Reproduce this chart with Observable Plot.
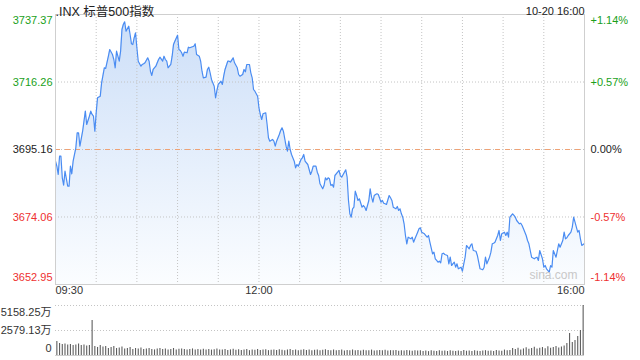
<!DOCTYPE html>
<html><head><meta charset="utf-8">
<script src="https://cdn.jsdelivr.net/npm/d3@7"></script>
<script src="https://cdn.jsdelivr.net/npm/@observablehq/plot@0.6"></script>
<style>
body{margin:0;background:#fff;}
#chart{width:640px;height:360px;position:relative;}
#chart svg{display:block;}
</style></head><body><div id="chart"></div>
<script>
const title = ".INX 标普500指数";
const stamp = "10-20 16:00";
const watermark = "sina.com";
const prevClose = 3695.16;
const priceTicks = [3737.37, 3716.26, 3695.16, 3674.06, 3652.95];
const pctLabels = ["+1.14%", "+0.57%", "0.00%", "-0.57%", "-1.14%"];
const timeTicks = [0, 150, 390];
const timeLabels = ["09:30", "12:00", "16:00"];
const gridMinutes = [30, 60, 90, 120, 150, 180, 210, 240, 270, 300, 330, 360];
const volTicks = [5158.25, 2579.13, 0];
const volLabels = ["5158.25万", "2579.13万", "0"];

// [minutes since 09:30, index level]
const pricePoints = [
[0,3691.50],[1,3689.94],[2,3687.35],[3,3693.07],[4,3693.07],[5,3686.31],[6,3684.00],[7,3688.38],[9,3683.69],[10,3683.69],
[11,3689.94],[12,3687.56],[13,3691.50],[15,3695.69],[16,3700.38],[17,3700.38],[18,3696.19],[20,3700.88],[21,3704.01],[22,3707.14],
[23,3702.98],[25,3705.57],[26,3707.14],[27,3706.11],[28,3705.57],[29,3700.88],[30,3706.64],[31,3711.33],[33,3711.83],[34,3716.02],
[36,3720.71],[37,3720.49],[39,3724.33],[40,3726.43],[42,3724.87],[43,3723.30],[44,3720.71],[45,3725.90],[47,3722.77],[48,3725.90],
[49,3732.68],[50,3734.25],[51,3735.09],[52,3732.15],[54,3733.71],[55,3731.12],[56,3728.21],[57,3727.99],[58,3730.09],[59,3731.65],
[60,3726.96],[61,3722.77],[63,3721.21],[64,3721.74],[65,3721.96],[66,3722.27],[68,3723.83],[69,3722.77],[70,3719.64],[71,3718.30],
[72,3720.18],[74,3721.21],[75,3722.27],[76,3723.30],[77,3724.02],[79,3722.77],[80,3724.33],[81,3723.30],[82,3722.77],[83,3720.71],
[85,3721.74],[86,3724.33],[87,3727.99],[88,3729.02],[90,3730.90],[91,3726.43],[92,3726.12],[93,3725.40],[94,3724.33],[95,3725.59],
[97,3725.40],[98,3727.15],[99,3726.96],
[102,3727.46],[103,3728.21],[104,3724.87],[106,3724.33],[107,3722.77],[108,3719.64],[109,3717.58],[111,3717.77],[112,3720.18],[113,3720.89],
[114,3719.14],[115,3717.05],[117,3714.95],[118,3711.33],[119,3713.61],[120,3715.49],[122,3716.52],[123,3715.49],[124,3718.08],[125,3720.18],
[127,3722.77],[128,3722.77],[129,3722.50],[131,3723.83],[132,3722.27],[134,3720.71],[135,3718.61],[136,3718.08],[138,3718.61],[139,3720.18],
[140,3719.46],[141,3721.74],[143,3721.74],[144,3719.14],[145,3717.58],[146,3713.92],[147,3713.39],[149,3711.83],[150,3708.20],[151,3706.11],
[152,3704.54],[153,3706.32],[155,3706.64],[156,3702.98],[157,3698.82],[158,3697.76],[160,3698.29],[161,3697.76],[162,3696.19],[163,3697.76],
[165,3699.85],[166,3701.10],[167,3701.95],[168,3700.88],[170,3696.19],[171,3694.63],[172,3697.76],[173,3695.16],[174,3693.60],[176,3691.50],
[177,3689.44],[178,3690.47],[179,3689.94],[181,3692.04],[182,3692.57],[183,3693.60],[184,3691.50],[186,3690.47],[187,3688.91],[188,3687.35],
[189,3688.38],[190,3689.94],[192,3689.94],
[193,3688.06],[194,3687.03],[195,3684.44],[197,3682.87],[198,3683.91],[199,3686.31],[200,3685.69],[201,3686.31],[202,3686.00],[203,3683.91],
[204,3684.22],[205,3683.37],[206,3687.03],[208,3688.06],[209,3688.60],[210,3687.03],[211,3686.50],[213,3688.06],[214,3688.81],[215,3686.50],
[216,3679.22],[217,3675.06],[218,3673.99],[219,3676.62],[220,3677.12],[221,3682.12],[222,3680.78],[223,3679.22],[224,3679.75],[226,3677.12],
[227,3677.65],[228,3677.12],[229,3676.09],[231,3679.22],[232,3682.87],[233,3680.25],[234,3678.68],[235,3680.78],[236,3681.09],[237,3681.31],
[238,3681.09],[240,3678.68],[241,3679.22],[242,3678.37],[243,3678.18],[244,3677.97],[246,3680.78],[247,3680.06],[248,3679.22],[249,3677.12],
[251,3676.62],[252,3677.34],[253,3676.09],[254,3676.62],[255,3675.06],[256,3673.99],[257,3671.93],[258,3668.27],[259,3665.68],[260,3667.74],
[262,3667.24],[263,3667.74],[264,3666.18],[265,3667.24],[267,3669.30],[268,3670.37],[269,3670.68],[270,3669.30],[272,3668.80],[273,3668.27],
[274,3667.74],[275,3668.27],[276,3666.18],[278,3662.55],[279,3663.05],[280,3660.99],[281,3660.46],[282,3659.92],[283,3660.24],[284,3659.74],
[285,3662.55],[286,3662.74],[287,3662.33],
[289,3662.02],[290,3659.42],[291,3661.49],[292,3658.89],[294,3659.92],[295,3658.36],[296,3659.42],[297,3657.86],[299,3658.36],[300,3657.11],
[301,3659.42],[302,3661.49],[303,3665.15],[305,3664.11],[306,3665.15],[307,3665.68],[308,3663.58],[310,3663.36],[311,3662.02],[312,3659.92],
[313,3657.86],[315,3657.55],[316,3658.36],[317,3661.49],[318,3659.42],[320,3661.49],[321,3663.05],[322,3665.68],[323,3665.87],[324,3666.18],
[326,3668.27],[327,3669.84],[328,3666.71],[329,3668.80],[331,3669.30],[332,3668.27],[333,3669.30],[334,3667.74],[335,3673.99],[337,3675.06],
[338,3674.53],[339,3673.99],[340,3672.96],[342,3671.93],[343,3672.12],[344,3671.40],[345,3670.37],[347,3668.27],[348,3666.71],[349,3665.68],
[350,3663.58],[351,3661.49],[353,3660.99],[354,3661.30],[355,3661.49],[356,3660.46],[357,3663.58],[359,3660.99],[360,3658.36],[361,3658.89],
[362,3657.86],[364,3656.80],[365,3658.89],[366,3658.36],[367,3663.58],[369,3661.49],[370,3663.58],[371,3665.68],[372,3664.61],[374,3666.71],
[375,3669.30],[376,3667.24],[377,3667.55],[378,3668.27],[380,3669.30],[381,3670.87],[382,3673.99],[383,3672.43],[385,3669.30],[386,3669.84],
[387,3667.24],[388,3665.15],[390,3665.78]
];

// volume per 2-minute bar, in 万 (10k shares)
const volumes = [
1440,1240,1130,1180,1080,1130,1030,1080,1180,1030,1080,980,1030,
3610,
930,830,1030,880,930,720,830,930,720,780,880,680,720,
820,620,720,680,780,620,680,720,620,580,680,720,620,680,580,620,720,580,640,680,620,560,620,680,580,620,560,640,580,620,560,600,680,560,
560,620,520,580,640,540,600,520,560,620,500,580,540,620,520,560,600,500,540,580,520,600,540,500,580,620,520,560,500,540,600,520,560,500,540,580,480,540,600,520,
500,560,480,520,580,460,520,500,560,480,520,460,540,500,480,560,460,500,520,480,540,460,500,480,520,440,500,460,520,480,440,500,460,480,
420,460,400,480,440,420,500,430,460,410,480,440,420,460,400,520,440,460,420,480,440,410,460,500,430,470,420,520,460,440,560,480,520,
720,620,760,560,680,800,640,720,860,680,760,820,700,900,760,820,920,780,880,
980,1240,2270,1340,1550,1960,2580,5158.25
];

const font = '"Liberation Sans", Arial, "Noto Sans CJK SC", sans-serif';
const upColor = "#1a9f1a", downColor = "#ee3030", flatColor = "#222222";
const colorOf = v => v > prevClose + 1e-6 ? upColor : (v < prevClose - 1e-6 ? downColor : flatColor);

const series = pricePoints.map(([m, p]) => ({m, p}));
const yMax = priceTicks[0], yMin = priceTicks[priceTicks.length - 1];
const tickData = priceTicks.map((v, i) => ({v, pct: pctLabels[i], c: colorOf(v)}));
const tTop = [tickData[0]], tMid = tickData.slice(1, -1), tBot = [tickData[tickData.length - 1]];
const timeData = timeTicks.map((m, i) => ({m, l: timeLabels[i]}));

const gradient = () => {
  const defs = document.createElementNS("http://www.w3.org/2000/svg", "defs");
  defs.innerHTML = '<linearGradient id="areaGrad" x1="0" y1="0" x2="0" y2="1">' +
    '<stop offset="0" stop-color="#cddff8"/><stop offset="1" stop-color="#fbfdff"/></linearGradient>';
  return defs;
};

const leftLab = (data, dy) => Plot.text(data, {y: "v", text: d => d.v.toFixed(2), frameAnchor: "left", textAnchor: "end", dx: -3, dy, fill: "c", fontSize: 11});
const rightLab = (data, dy) => Plot.text(data, {y: "v", text: "pct", frameAnchor: "right", textAnchor: "start", dx: 6, dy, fill: "c", fontSize: 11});
const timeLab = (d, anchor) => Plot.text([d], {x: "m", text: "l", frameAnchor: "bottom", textAnchor: anchor, dy: 9, fill: "#333", fontSize: 11});

const main = Plot.plot({
  width: 640, height: 300,
  marginLeft: 55, marginRight: 56, marginTop: 14, marginBottom: 16,
  x: {domain: [0, 390], axis: null},
  y: {domain: [yMin, yMax], axis: null},
  color: {type: "identity"},
  style: {fontFamily: font, background: "transparent", overflow: "visible"},
  marks: [
    gradient,
    Plot.areaY(series, {x: "m", y1: yMin, y2: "p", fill: "url(#areaGrad)"}),
    Plot.ruleX(gridMinutes, {stroke: "#c4c4c4", strokeDasharray: "1,2"}),
    Plot.ruleY(tMid.map(d => d.v), {stroke: "#c4c4c4", strokeDasharray: "1,2"}),
    Plot.ruleY([prevClose], {stroke: "#f0a274", strokeDasharray: "5,5"}),
    Plot.line(series, {x: "m", y: "p", stroke: "#4a8cf2", strokeWidth: 1.2}),
    Plot.frame({stroke: "#cfcfcf"}),
    leftLab(tTop, 6), leftLab(tMid, 0), leftLab(tBot, -7),
    rightLab(tTop, 6), rightLab(tMid, 0), rightLab(tBot, -7),
    timeLab(timeData[0], "start"), timeLab(timeData[1], "middle"), timeLab(timeData[2], "end"),
    Plot.text([title], {text: d => d, frameAnchor: "top-left", textAnchor: "start", dy: -7, fontSize: 12.5, fill: "#222"}),
    Plot.text([stamp], {text: d => d, frameAnchor: "top-right", textAnchor: "end", dy: -7, fontSize: 11, fill: "#222"}),
    Plot.text([watermark], {text: d => d, frameAnchor: "bottom-right", textAnchor: "middle", dx: -31, dy: -6, fontSize: 12, fill: "#c8c8c8"})
  ]
});

const volData = volumes.map((v, i) => ({m: 2 * i + 1, v}));
const volTickData = volTicks.map((v, i) => ({v, l: volLabels[i]}));
const volLab = (d, dy) => Plot.text([d], {y: "v", text: "l", frameAnchor: "left", textAnchor: "end", dx: -4, dy, fill: "#333", fontSize: 11});

const vol = Plot.plot({
  width: 640, height: 60,
  marginLeft: 55, marginRight: 56, marginTop: 5, marginBottom: 5,
  x: {domain: [0, 390], axis: null},
  y: {domain: [0, volTicks[0]], axis: null},
  style: {fontFamily: font, background: "transparent", overflow: "visible"},
  marks: [
    Plot.ruleY(volTicks.slice(0, 2), {stroke: "#c4c4c4", strokeDasharray: "1,2"}),
    Plot.ruleY([0], {stroke: "#cfcfcf"}),
    Plot.ruleX(volData, {x: "m", y1: 0, y2: "v", stroke: "#5e5e5e", strokeWidth: 1.1}),
    volLab(volTickData[0], 7), volLab(volTickData[1], 0), volLab(volTickData[2], -7)
  ]
});

const root = document.getElementById("chart");
root.appendChild(main);
root.appendChild(vol);
</script>
</body></html>
